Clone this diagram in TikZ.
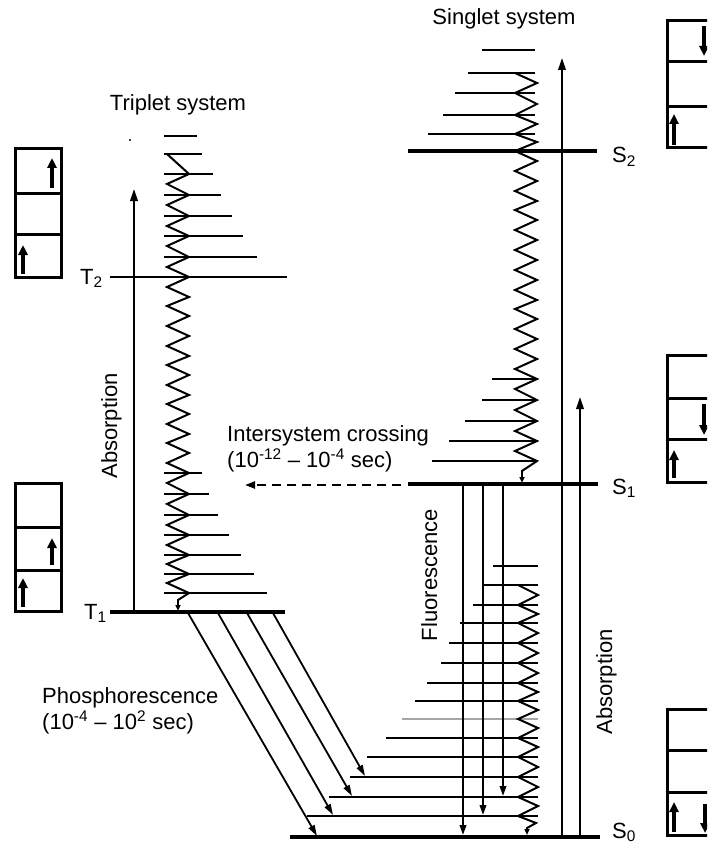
\documentclass[tikz,border=0pt]{standalone}
\usepackage{fontspec}
\setmainfont{Liberation Sans}
\usetikzlibrary{arrows.meta}
\begin{document}
\begin{tikzpicture}[x=1pt,y=-1pt,
  lvl/.style={line width=2pt},
  mainlvl/.style={line width=3.8pt},
  zz/.style={line width=2pt,line join=miter},
  uparr/.style={line width=2pt,-{Triangle[length=12pt,width=7.5pt]}},
  fl/.style={line width=2pt,-{Triangle[length=10pt,width=6.5pt]}},
  ph/.style={line width=1.8pt,-{Triangle[length=11pt,width=6.5pt]}},
  small/.style={line width=1.8pt,-{Triangle[length=6pt,width=5pt]}},
  box/.style={line width=3pt},
  spin/.style={line width=3.4pt,-{Triangle[length=10pt,width=9pt]}},
  lab/.style={inner sep=0pt,font=\fontsize{22}{26}\selectfont},
]
\useasboundingbox (0,0) rectangle (707,845);
\clip (0,0) rectangle (707,845);

% ---------- spin boxes ----------
\draw[box] (15,149) rectangle (61,277) (15,193) -- (61,193) (15,234) -- (61,234);
\draw[spin] (52,188) -- (52,158);
\draw[spin] (23,274) -- (23,245);
\draw[box] (15,483) rectangle (61,611) (15,527) -- (61,527) (15,570) -- (61,570);
\draw[spin] (52,565) -- (52,538);
\draw[spin] (23,607) -- (23,578);
\draw[box] (667,21) rectangle (725,148) (667,62) -- (725,62) (667,107) -- (725,107);
\draw[spin] (704,26) -- (704,56);
\draw[spin] (674,145) -- (674,114);
\draw[box] (667,355) rectangle (725,482) (667,398) -- (725,398) (667,439) -- (725,439);
\draw[spin] (704,404) -- (704,435);
\draw[spin] (674,478) -- (674,450);
\draw[box] (667,709) rectangle (725,835) (667,750) -- (725,750) (667,792) -- (725,792);
\draw[spin] (674,832) -- (674,802);
\draw[spin] (705,804) -- (705,833);

% ---------- triplet system ----------
\fill (130,140) circle (1.2pt);
\foreach \y/\r in {136/197,154/202,174/213,195/221,216/232,236/243,257/257,
                   473/202,494/209,515/218,535/229,555/241,574/254,593/267}
  \draw[lvl] (164,\y) -- (\r,\y);
\draw[line width=2.5pt] (110,277) -- (287,277);
\draw[mainlvl] (110,612) -- (285,612);
\draw[zz] (167,154) -- (189,174) -- (167,184) -- (189,195) -- (167,205) -- (189,216)
  -- (167,226) -- (189,236) -- (167,246) -- (189,257) -- (167,267) -- (189,277)
  -- (167,287) -- (189,297) -- (167,306) -- (189,316) -- (167,326) -- (189,336)
  -- (167,346) -- (189,356) -- (167,365) -- (189,375) -- (167,385) -- (189,395)
  -- (167,404) -- (189,414) -- (167,424) -- (189,434) -- (167,443) -- (189,453)
  -- (167,463) -- (189,473) -- (167,483) -- (189,494) -- (167,504) -- (189,515)
  -- (167,525) -- (189,535) -- (167,545) -- (189,555) -- (167,564) -- (189,574)
  -- (167,583) -- (189,593) -- (178,600);
\coordinate (tzA) at (178,599);
\coordinate (tzB) at (178,611);
\draw[small] (tzA) -- (tzB);
\coordinate (absT0) at (134,611);
\coordinate (absT1) at (134,189);
\draw[uparr] (absT0) -- (absT1);

% ---------- singlet system ----------
\foreach \y/\l in {50/482,73/468,93/455,115/443,134/428}
  \draw[lvl] (\l,\y) -- (535,\y);
\foreach \y/\l in {379/492,400/482,421/465,441/449,461/432}
  \draw[lvl] (\l,\y) -- (537,\y);
\foreach \y/\l in {566/493,585/483,605/473,623/460,643/449,663/441,683/427,
                   701/415,738/386,757/367,777/350,797/329,816/307}
  \draw[lvl] (\l,\y) -- (538,\y);
\draw[lvl,gray!70] (402,719) -- (538,719);
\draw[mainlvl] (408,151) -- (597,151);
\draw[mainlvl] (408,484) -- (598,484);
\draw[mainlvl] (290,837) -- (600,837);

\draw[zz] (515,73) -- (537,83) -- (515,93) -- (537,104) -- (515,115) -- (537,124)
  -- (515,134) -- (537,142) -- (515,151) -- (537,161) -- (515,171) -- (537,181)
  -- (515,191) -- (537,201) -- (515,210) -- (537,220) -- (515,230) -- (537,240)
  -- (515,250) -- (537,260) -- (515,270) -- (537,280) -- (515,290) -- (537,300)
  -- (515,309) -- (537,319) -- (515,329) -- (537,339) -- (515,349) -- (537,359)
  -- (515,369) -- (537,379) -- (515,389) -- (537,400) -- (515,410) -- (537,421)
  -- (515,431) -- (537,441) -- (515,451) -- (537,461) -- (522,471);
\coordinate (szA) at (522,470);
\coordinate (szB) at (522,483);
\draw[small] (szA) -- (szB);

\draw[zz] (518,585) -- (538,595) -- (518,605) -- (538,614) -- (518,623) -- (538,633)
  -- (518,643) -- (538,653) -- (518,663) -- (538,673) -- (518,683) -- (538,692)
  -- (518,701) -- (538,710) -- (518,719) -- (538,728) -- (518,738) -- (538,747)
  -- (518,757) -- (538,767) -- (518,777) -- (538,787) -- (518,797) -- (538,806)
  -- (518,816) -- (536,823) -- (527,828);
\coordinate (s0zA) at (527,827);
\coordinate (s0zB) at (527,835);
\draw[small] (s0zA) -- (s0zB);

% absorption (singlet)
\coordinate (absS0) at (562,836);
\coordinate (absS2) at (562,58);
\draw[uparr] (absS0) -- (absS2);
\coordinate (absS0b) at (580,836);
\coordinate (absS1) at (580,397);
\draw[uparr] (absS0b) -- (absS1);

% fluorescence
\coordinate (f1a) at (463,485); \coordinate (f1b) at (463,835);
\coordinate (f2a) at (483,485); \coordinate (f2b) at (483,815);
\coordinate (f3a) at (503,485); \coordinate (f3b) at (503,796);
\draw[fl] (f1a) -- (f1b);
\draw[fl] (f2a) -- (f2b);
\draw[fl] (f3a) -- (f3b);

% intersystem crossing
\coordinate (iscA) at (401,485);
\coordinate (iscB) at (245,485);
\draw[line width=2.2pt,dash pattern=on 9pt off 6pt,-{Triangle[length=10pt,width=7pt]}] (iscA) -- (iscB);

% phosphorescence
\coordinate (p1a) at (188,613); \coordinate (p1b) at (317,836);
\coordinate (p2a) at (218,613); \coordinate (p2b) at (333,815);
\coordinate (p3a) at (247,613); \coordinate (p3b) at (352,796);
\coordinate (p4a) at (273,613); \coordinate (p4b) at (365,776);
\draw[ph] (p1a) -- (p1b);
\draw[ph] (p2a) -- (p2b);
\draw[ph] (p3a) -- (p3b);
\draw[ph] (p4a) -- (p4b);

% ---------- labels ----------
\node[lab,anchor=base] (singlet) at (504,25) {Singlet system};
\node[lab,anchor=base] (triplet) at (178,111) {Triplet system};
\node[lab,anchor=base west] (T2l) at (80,284) {T\textsubscript{2}};
\node[lab,anchor=base west] (T1l) at (84,619) {T\textsubscript{1}};
\node[lab,anchor=base west] (S2l) at (612,163) {S\textsubscript{2}};
\node[lab,anchor=base west] (S1l) at (612,494) {S\textsubscript{1}};
\node[lab,anchor=base west] (S0l) at (612,838) {S\textsubscript{0}};
\node[lab,rotate=90,anchor=base] (absTl) at (117,426) {Absorption};
\node[lab,rotate=90,anchor=base] (fluo) at (437,575) {Fluorescence};
\node[lab,rotate=90,anchor=base] (absSl) at (612,682) {Absorption};
\node[lab,anchor=base west] (isc1) at (227,441) {Intersystem crossing};
\node[lab,anchor=base west] (isc2) at (227,467) {(10\textsuperscript{-12} – 10\textsuperscript{-4} sec)};
\node[lab,anchor=base west] (ph1) at (42,703) {Phosphorescence};
\node[lab,anchor=base west] (ph2) at (42,729) {(10\textsuperscript{-4} – 10\textsuperscript{2} sec)};
\end{tikzpicture}
\end{document}
